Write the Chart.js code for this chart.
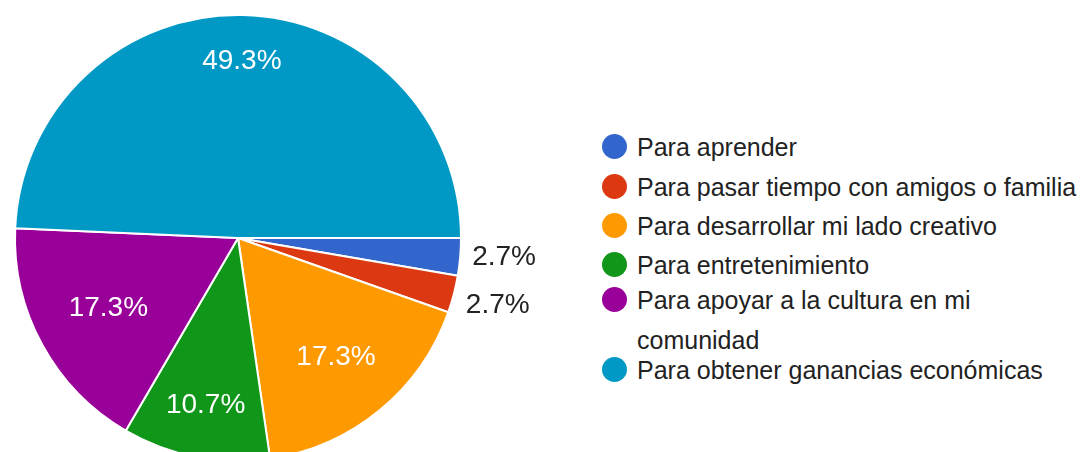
<!DOCTYPE html>
<html>
<head>
<meta charset="utf-8">
<script src="https://cdn.jsdelivr.net/npm/chart.js@4/dist/chart.umd.min.js"></script>
<style>
  html, body { margin: 0; padding: 0; background: #fff; width: 1083px; height: 452px; overflow: hidden; }
  #wrap { position: absolute; left: 0; top: 0; width: 570px; height: 476px; }
  #legend { position: absolute; left: 0; top: 0; font-family: "Liberation Sans", Arial, sans-serif; font-size: 25px; color: #222; }
  .item { position: absolute; left: 602px; width: 481px; display: flex; align-items: flex-start; }
  .dot { width: 25px; height: 25px; border-radius: 50%; flex: none; }
  .txt { margin-left: 10px; width: 446px; line-height: 40px; }
</style>
</head>
<body>
<div id="wrap"><canvas id="c" width="570" height="476"></canvas></div>
<div id="legend"></div>
<script>
const categories = [
  "Para aprender",
  "Para pasar tiempo con amigos o familia",
  "Para desarrollar mi lado creativo",
  "Para entretenimiento",
  "Para apoyar a la cultura en mi comunidad",
  "Para obtener ganancias económicas"
];
const percentages = [2.7, 2.7, 17.3, 10.7, 17.3, 49.3];
const colors = ["#3366cc", "#dc3912", "#ff9900", "#109618", "#990099", "#0099c6"];
const legendCenters = [147, 187, 226, 265, 300, 370];

// HTML legend
const lg = document.getElementById('legend');
categories.forEach((c, i) => {
  const it = document.createElement('div');
  it.className = 'item';
  it.style.top = (legendCenters[i] - 20) + 'px';
  const d = document.createElement('div');
  d.className = 'dot';
  d.style.background = colors[i];
  d.style.marginTop = '7px';
  const t = document.createElement('div');
  t.className = 'txt';
  t.textContent = c;
  it.appendChild(d); it.appendChild(t);
  lg.appendChild(it);
});

const labelPlugin = {
  id: 'pctLabels',
  afterDatasetsDraw(chart) {
    const ctx = chart.ctx;
    const meta = chart.getDatasetMeta(0);
    const vals = chart.data.datasets[0].data;
    const total = vals.reduce((a, b) => a + b, 0);
    ctx.save();
    ctx.font = '28px "Liberation Sans", Arial, sans-serif';
    ctx.textBaseline = 'middle';
    let lastOutY = -Infinity;
    meta.data.forEach((arc, i) => {
      const p = arc.getProps(['x', 'y', 'startAngle', 'endAngle', 'outerRadius'], true);
      const mid = (p.startAngle + p.endAngle) / 2;
      const dx = Math.cos(mid), dy = Math.sin(mid);
      const share = vals[i] / total * 100;
      const txt = vals[i].toFixed(1) + '%';
      const w = ctx.measureText(txt).width;
      if (share >= 5) {
        const hw = w / 2, hh = 10;
        const d = 0.84 * p.outerRadius - (hw * Math.abs(dx) + hh * Math.abs(dy));
        ctx.fillStyle = '#ffffff';
        ctx.textAlign = 'center';
        ctx.fillText(txt, p.x + dx * d, p.y + dy * d);
      } else {
        let x = p.x + dx * p.outerRadius + 12;
        let y = p.y + dy * p.outerRadius;
        if (y < lastOutY + 48) y = lastOutY + 48;
        lastOutY = y;
        ctx.fillStyle = '#222222';
        ctx.textAlign = 'left';
        ctx.fillText(txt, x, y);
      }
    });
    ctx.restore();
  }
};

new Chart(document.getElementById('c'), {
  type: 'pie',
  data: {
    labels: categories,
    datasets: [{
      data: percentages,
      backgroundColor: colors,
      borderColor: '#ffffff',
      borderWidth: 2
    }]
  },
  options: {
    responsive: false,
    animation: false,
    rotation: 90,
    layout: { padding: { left: 14, right: 108, top: 14, bottom: 14 } },
    plugins: { legend: { display: false }, tooltip: { enabled: false } }
  },
  plugins: [labelPlugin]
});
</script>
</body>
</html>
